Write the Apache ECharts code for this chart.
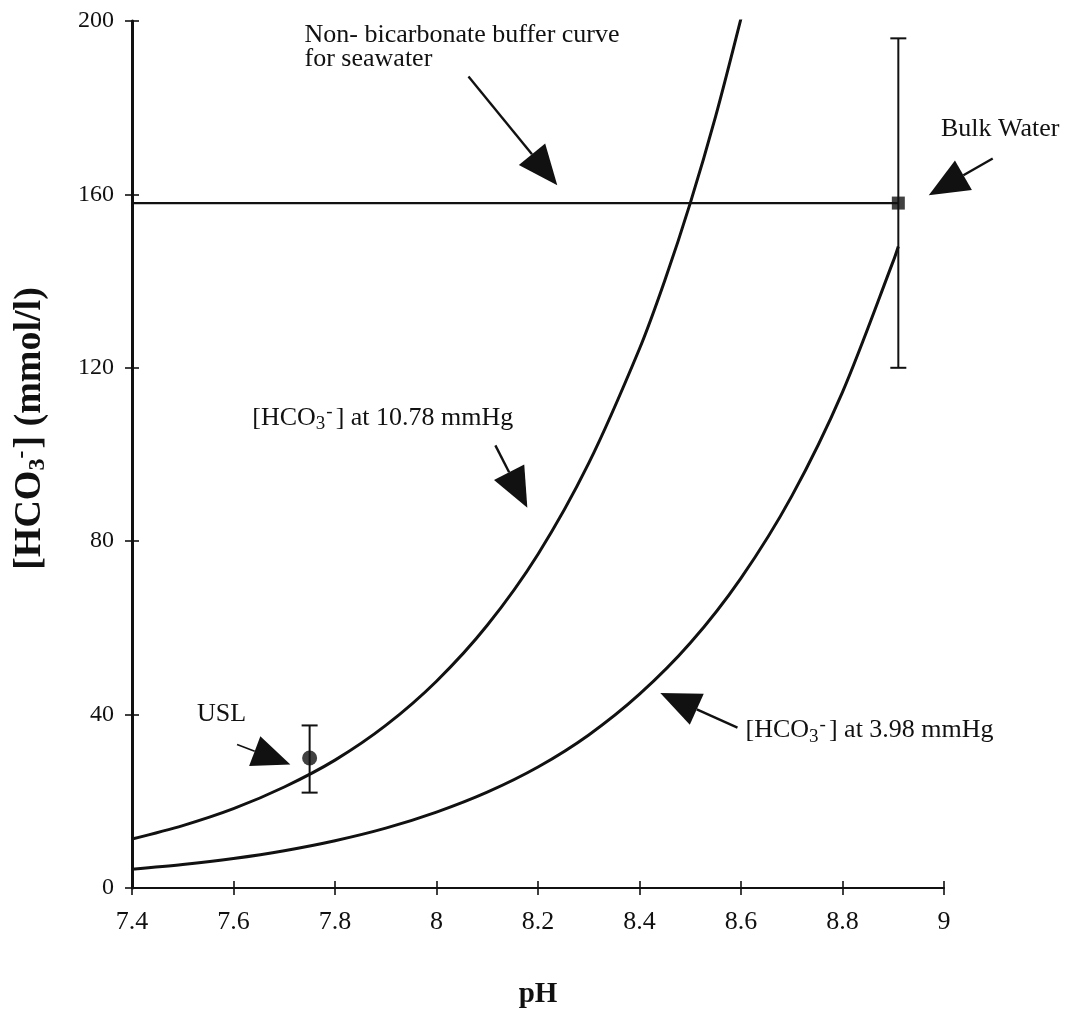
<!DOCTYPE html>
<html>
<head>
<meta charset="utf-8">
<script src="https://cdn.jsdelivr.net/npm/echarts@6/dist/echarts.min.js"></script>
<style>
  html, body { margin: 0; padding: 0; background: #fff; }
  #chart { width: 1080px; height: 1014px; }
</style>
</head>
<body>
<div id="chart"></div>
<script>
// curves
const phUpper = [7.4, 7.5, 7.6, 7.7, 7.8, 7.9, 8.0, 8.1, 8.2, 8.3, 8.4, 8.45, 8.5, 8.55, 8.6];
const hco3At1078 = [11.3, 14.4, 18.3, 23.3, 29.5, 37.5, 47.7, 60.6, 77.0, 98.0, 124.4, 140.2, 158.0, 178.0, 200.6];
const phLower = [7.4, 7.5, 7.6, 7.7, 7.8, 7.9, 8.0, 8.1, 8.2, 8.3, 8.4, 8.5, 8.6, 8.7, 8.8, 8.9, 8.91];
const hco3At398 = [4.3, 5.4, 6.8, 8.6, 10.9, 13.8, 17.5, 22.1, 27.9, 35.3, 44.7, 56.5, 71.5, 90.4, 114.4, 144.6, 148.0];

// non-bicarbonate buffer line
const bufferPH = [7.4, 8.91];
const bufferHCO3 = [158, 158];

// measured points: USL, Bulk Water
const pointNames = ['USL', 'Bulk Water'];
const pointPH = [7.75, 8.91];
const pointHCO3 = [30, 158];
const errLow = [22, 120];
const errHigh = [37.5, 196];

const xTicks = [7.4, 7.6, 7.8, 8, 8.2, 8.4, 8.6, 8.8, 9];
const yTicks = [0, 40, 80, 120, 160, 200];

const font = 'Liberation Serif';
const ink = '#111';

const pairs = (xs, ys) => xs.map((x, i) => [x, ys[i]]);

const chart = echarts.init(document.getElementById('chart'), null, { renderer: 'canvas' });

const rich = {
  sub: { fontFamily: font, fontSize: 19, color: ink, padding: [12, 1, 0, 0] },
  sup: { fontFamily: font, fontSize: 19, color: ink, padding: [0, 3, 12, 0] }
};

const baseX = { type: 'value', min: 7.4, max: 9, interval: 0.2, splitLine: { show: false } };
const baseY = { type: 'value', min: 0, max: 200, interval: 40, splitLine: { show: false } };
const tickStyle = { color: ink, width: 1.6 };

chart.setOption({
  animation: false,
  grid: { left: 132, right: 136, top: 21, bottom: 117 },
  xAxis: [
    Object.assign({}, baseX, {
      position: 'bottom',
      name: 'pH', nameLocation: 'middle', nameGap: 92,
      nameTextStyle: { fontFamily: font, fontSize: 29, fontWeight: 'bold', color: ink },
      axisLine: { onZero: false, lineStyle: { color: ink, width: 2 } },
      axisTick: { show: true, length: 7, customValues: xTicks, lineStyle: tickStyle },
      axisLabel: {
        customValues: xTicks, margin: 21, fontFamily: font, fontSize: 26, color: ink,
        formatter: v => String(+(+v).toFixed(1))
      }
    }),
    Object.assign({}, baseX, {
      position: 'bottom',
      axisLine: { show: false },
      axisTick: { show: true, inside: true, length: 7, customValues: xTicks, lineStyle: tickStyle },
      axisLabel: { show: false }
    })
  ],
  yAxis: [
    Object.assign({}, baseY, {
      position: 'left',
      axisLine: { onZero: false, lineStyle: { color: ink, width: 3 } },
      axisTick: { show: true, length: 7, customValues: yTicks, lineStyle: tickStyle },
      axisLabel: { customValues: yTicks, margin: 18, fontFamily: font, fontSize: 24, color: ink }
    }),
    Object.assign({}, baseY, {
      position: 'left',
      axisLine: { show: false },
      axisTick: { show: true, inside: true, length: 7, customValues: yTicks, lineStyle: tickStyle },
      axisLabel: { show: false }
    })
  ],
  series: [
    {
      name: '10.78 mmHg', type: 'line', smooth: 0.3, symbol: 'none',
      data: pairs(phUpper, hco3At1078),
      lineStyle: { color: ink, width: 3 }
    },
    {
      name: '3.98 mmHg', type: 'line', smooth: 0.3, symbol: 'none',
      data: pairs(phLower, hco3At398),
      lineStyle: { color: ink, width: 3 }
    },
    {
      name: 'buffer', type: 'line', symbol: 'none',
      data: pairs(bufferPH, bufferHCO3),
      lineStyle: { color: ink, width: 2.2 }
    },
    {
      name: 'error', type: 'custom',
      data: pointPH.map((x, i) => [x, pointHCO3[i], errLow[i], errHigh[i]]),
      renderItem: (params, api) => {
        const x = api.value(0);
        const top = api.coord([x, api.value(3)]);
        const bot = api.coord([x, api.value(2)]);
        const w = 8;
        const st = { stroke: ink, lineWidth: 2 };
        return {
          type: 'group',
          children: [
            { type: 'line', shape: { x1: top[0], y1: top[1], x2: bot[0], y2: bot[1] }, style: st },
            { type: 'line', shape: { x1: top[0] - w, y1: top[1], x2: top[0] + w, y2: top[1] }, style: st },
            { type: 'line', shape: { x1: bot[0] - w, y1: bot[1], x2: bot[0] + w, y2: bot[1] }, style: st }
          ]
        };
      },
      z: 3
    },
    {
      name: 'points', type: 'scatter',
      data: pointPH.map((x, i) => ({
        value: [x, pointHCO3[i]],
        symbol: i === 0 ? 'circle' : 'rect',
        symbolSize: i === 0 ? 15 : 13
      })),
      itemStyle: { color: ink },
      z: 4
    }
  ]
});

// annotations (text + arrows), anchored in data coordinates
const notes = [
  { text: 'Non- bicarbonate buffer curve\nfor seawater', at: [7.74, 199.5], va: 'top' },
  { text: 'Bulk Water', at: [8.994, 175.1], va: 'middle' },
  { text: '[HCO{sub|3}{sup|-}] at 10.78 mmHg', at: [7.637, 108.4], va: 'middle' },
  { text: '[HCO{sub|3}{sup|-}] at 3.98 mmHg', at: [8.609, 36.3], va: 'middle' },
  { text: 'USL', at: [7.528, 40.2], va: 'middle' }
];
const arrows = [
  { from: [8.063, 187.2], to: [8.238, 162.1], w: 2.4, L: 40, W: 34 },
  { from: [9.096, 168.3], to: [8.970, 159.8], w: 2.4, L: 40, W: 34 },
  { from: [8.116, 102.1], to: [8.179, 87.7], w: 2.4, L: 40, W: 34 },
  { from: [8.593, 37.0], to: [8.441, 45.0], w: 2.4, L: 40, W: 34 },
  { from: [7.607, 33.1], to: [7.712, 28.5], w: 1.6, L: 38, W: 32 }
];

function draw() {
  const px = p => chart.convertToPixel({ gridIndex: 0 }, p);
  const g = [];
  notes.forEach(n => {
    const p = px(n.at);
    g.push({
      type: 'text', x: p[0], y: p[1], z: 10,
      style: {
        text: n.text, fill: ink, fontFamily: font, fontSize: 26, lineHeight: 24,
        verticalAlign: n.va, align: 'left', rich: rich
      }
    });
  });
  arrows.forEach(a => {
    const t = px(a.from), h = px(a.to);
    const dx = h[0] - t[0], dy = h[1] - t[1];
    const len = Math.hypot(dx, dy);
    const ux = dx / len, uy = dy / len;
    const bx = h[0] - ux * a.L, by = h[1] - uy * a.L;
    g.push({
      type: 'line', z: 10,
      shape: { x1: t[0], y1: t[1], x2: bx, y2: by },
      style: { stroke: ink, lineWidth: a.w }
    });
    g.push({
      type: 'polygon', z: 10,
      shape: { points: [h, [bx - uy * a.W / 2, by + ux * a.W / 2], [bx + uy * a.W / 2, by - ux * a.W / 2]] },
      style: { fill: ink }
    });
  });
  // y-axis title, rotated
  const mid = px([7.4, 106]);
  g.push({
    type: 'text', x: 30, y: mid[1], rotation: Math.PI / 2, z: 10,
    style: {
      text: '[HCO{bs|3}{bp|-}] (mmol/l)',
      fill: ink, fontFamily: font, fontSize: 38, fontWeight: 'bold',
      align: 'center', verticalAlign: 'middle',
      rich: {
        bs: { fontFamily: font, fontSize: 24, fontWeight: 'bold', color: ink, padding: [16, 0, 0, 0] },
        bp: { fontFamily: font, fontSize: 24, fontWeight: 'bold', color: ink, padding: [0, 2, 16, 0] }
      }
    }
  });
  chart.setOption({ graphic: g });
}
draw();
</script>
</body>
</html>
